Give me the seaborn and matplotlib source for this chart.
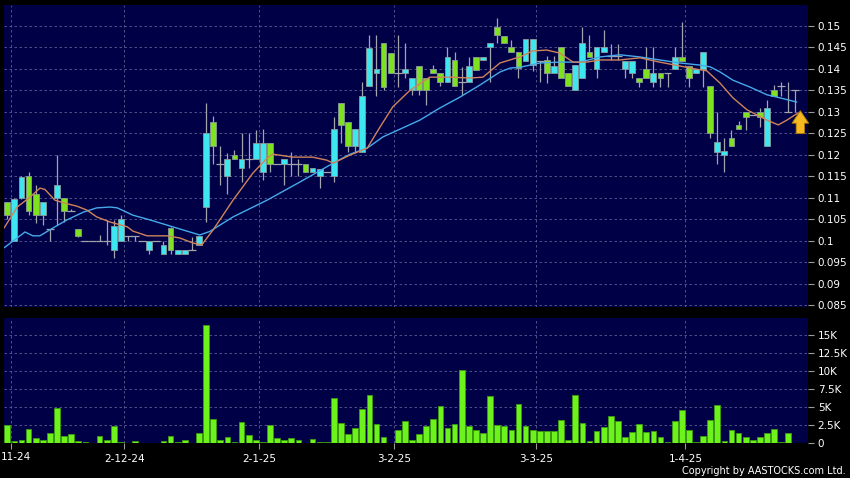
import numpy as np
import pandas as pd
import matplotlib
matplotlib.use('Agg')
import matplotlib.pyplot as plt
import seaborn as sns

# daily OHLC (HK$), one entry per trading day
opens = [0.109, 0.100, 0.110, 0.115, 0.111, 0.106, 0.1028, 0.110, 0.110, 0.107,
         0.1028, 0.100, 0.100, 0.100, 0.100, 0.098, 0.100, 0.1012, 0.1012, 0.100,
         0.098, 0.100, 0.097, 0.103, 0.097, 0.097, 0.098, 0.0991, 0.108, 0.1277,
         0.118, 0.115, 0.120, 0.117, 0.119, 0.119, 0.116, 0.1228, 0.118, 0.118,
         0.118, 0.118, 0.118, 0.116, 0.115, 0.116, 0.115, 0.132, 0.1277, 0.122,
         0.1207, 0.136, 0.139, 0.146, 0.1437, 0.139, 0.139, 0.135, 0.1407, 0.138,
         0.140, 0.139, 0.137, 0.142, 0.137, 0.137, 0.1428, 0.142, 0.145, 0.1498,
         0.1477, 0.145, 0.144, 0.1418, 0.1409, 0.1418, 0.142, 0.139, 0.145, 0.139,
         0.135, 0.1379, 0.144, 0.140, 0.144, 0.143, 0.143, 0.140, 0.139, 0.1379,
         0.140, 0.137, 0.139, 0.139, 0.140, 0.1428, 0.1407, 0.139, 0.140, 0.136,
         0.1207, 0.120, 0.124, 0.127, 0.130, 0.1293, 0.130, 0.122, 0.135, 0.136,
         0.130, 0.135]
highs = [0.109, 0.110, 0.115, 0.116, 0.113, 0.109, 0.1028, 0.120, 0.110, 0.1075,
         0.1028, 0.100, 0.100, 0.1014, 0.1049, 0.1049, 0.106, 0.1012, 0.1012, 0.100,
         0.100, 0.100, 0.100, 0.1033, 0.098, 0.098, 0.101, 0.1012, 0.132, 0.129,
         0.122, 0.1205, 0.1212, 0.125, 0.125, 0.1258, 0.126, 0.1228, 0.118, 0.119,
         0.1207, 0.119, 0.118, 0.117, 0.1167, 0.116, 0.1288, 0.132, 0.1277, 0.126,
         0.137, 0.148, 0.148, 0.146, 0.1437, 0.148, 0.146, 0.138, 0.1407, 0.138,
         0.141, 0.139, 0.145, 0.144, 0.1405, 0.1428, 0.1428, 0.1428, 0.146, 0.1519,
         0.1477, 0.1467, 0.144, 0.147, 0.147, 0.1418, 0.143, 0.143, 0.145, 0.139,
         0.1409, 0.1498, 0.148, 0.145, 0.149, 0.1458, 0.1458, 0.1419, 0.1419, 0.1379,
         0.145, 0.145, 0.139, 0.139, 0.145, 0.151, 0.1407, 0.140, 0.144, 0.136,
         0.130, 0.124, 0.1258, 0.128, 0.130, 0.1293, 0.131, 0.1328, 0.1363, 0.137,
         0.137, 0.135]
lows = [0.105, 0.100, 0.1098, 0.106, 0.1042, 0.1037, 0.100, 0.1037, 0.1045, 0.107,
        0.1010, 0.100, 0.100, 0.100, 0.0991, 0.096, 0.100, 0.100, 0.100, 0.100,
        0.097, 0.100, 0.097, 0.097, 0.097, 0.097, 0.098, 0.0991, 0.1044, 0.118,
        0.113, 0.111, 0.119, 0.1137, 0.117, 0.119, 0.1142, 0.116, 0.118, 0.113,
        0.115, 0.115, 0.116, 0.116, 0.1123, 0.116, 0.1137, 0.1228, 0.1207, 0.1205,
        0.1207, 0.136, 0.1337, 0.135, 0.139, 0.1358, 0.138, 0.134, 0.134, 0.1316,
        0.139, 0.136, 0.137, 0.136, 0.134, 0.137, 0.1398, 0.142, 0.137, 0.146,
        0.146, 0.144, 0.1379, 0.1418, 0.1395, 0.137, 0.1367, 0.139, 0.1379, 0.136,
        0.135, 0.1379, 0.1428, 0.138, 0.144, 0.142, 0.142, 0.138, 0.138, 0.1358,
        0.1379, 0.1358, 0.1358, 0.1358, 0.140, 0.1419, 0.1358, 0.139, 0.1358, 0.124,
        0.118, 0.116, 0.122, 0.126, 0.1258, 0.1293, 0.1265, 0.122, 0.1337, 0.1337,
        0.130, 0.130]
closes = [0.106, 0.1098, 0.1149, 0.107, 0.106, 0.109, 0.1028, 0.113, 0.107, 0.107,
          0.1012, 0.100, 0.100, 0.100, 0.100, 0.1035, 0.105, 0.1012, 0.1012, 0.100,
          0.100, 0.100, 0.099, 0.098, 0.098, 0.098, 0.098, 0.1012, 0.125, 0.122,
          0.118, 0.119, 0.119, 0.119, 0.119, 0.1228, 0.1228, 0.118, 0.118, 0.119,
          0.118, 0.118, 0.116, 0.117, 0.1167, 0.116, 0.126, 0.127, 0.122, 0.126,
          0.1337, 0.1449, 0.140, 0.1358, 0.139, 0.139, 0.140, 0.1379, 0.135, 0.135,
          0.139, 0.137, 0.1428, 0.136, 0.137, 0.1407, 0.1398, 0.1428, 0.146, 0.148,
          0.146, 0.144, 0.1402, 0.147, 0.147, 0.1418, 0.139, 0.1407, 0.1379, 0.136,
          0.1409, 0.146, 0.1428, 0.145, 0.145, 0.143, 0.143, 0.1419, 0.1419, 0.137,
          0.1379, 0.139, 0.1379, 0.139, 0.1428, 0.1419, 0.1379, 0.140, 0.144, 0.125,
          0.123, 0.121, 0.122, 0.126, 0.1288, 0.1293, 0.1288, 0.131, 0.1337, 0.136,
          0.130, 0.135]
# volume in thousands of shares
volume_k = [2.55, 0.23, 0.37, 2.0, 0.74, 0.37, 1.34, 4.8, 0.97, 1.25,
            0.28, 0.14, 0.0, 0.97, 0.42, 2.3, 0.19, 0.02, 0.23, 0.0,
            0.02, 0.0, 0.28, 0.97, 0.19, 0.42, 0.0, 1.39, 16.4, 3.4,
            0.42, 0.88, 0.1, 2.9, 1.16, 0.42, 0.19, 2.45, 0.65, 0.46,
            0.65, 0.37, 0.0, 0.5, 0.14, 0.14, 6.3, 2.8, 1.25, 2.1,
            4.7, 6.6, 2.7, 0.83, 0.0, 1.8, 3.0, 0.46, 1.2, 2.36,
            3.3, 5.1, 2.1, 2.7, 10.1, 2.36, 1.85, 1.44, 6.5, 2.55,
            2.4, 1.85, 5.4, 2.36, 1.76, 1.71, 1.71, 1.71, 3.2, 0.42,
            6.7, 2.8, 0.28, 1.67, 2.2, 3.8, 3.0, 0.83, 1.57, 2.64,
            1.53, 1.62, 0.88, 0.14, 3.0, 4.6, 1.85, 0.1, 0.97, 3.15,
            5.3, 0.28, 1.85, 1.44, 0.88, 0.46, 0.88, 1.39, 2.0, 0.1,
            1.39, 0.0]

# moving averages (day index, value)
ma_short_day = [-0.46, 1.4, 3.2, 4.6, 5.3, 6.7, 8.1, 9.8, 11.2, 12.6, 14.5, 16.9, 17.7,
                19.7, 22.5, 24.3, 26.2, 27.4, 29.0, 31.8, 34.6, 36.6, 37.4, 40.2, 43.0,
                45.0, 45.9, 48.3, 50.7, 52.5, 54.3, 56.7, 59.5, 62.3, 65.2, 67.0, 69.4,
                72.2, 74.0, 76.0, 77.8, 79.7, 81.6, 83.5, 86.3, 89.1, 91.9, 94.7, 97.6,
                98.5, 100.4, 102.2, 104.2, 105.6, 107.0, 108.6, 109.8, 111.4]
ma_short = [0.103, 0.1079, 0.1102, 0.1123, 0.112, 0.1095, 0.1088, 0.1081, 0.1072, 0.1056,
            0.1044, 0.1033, 0.1023, 0.1012, 0.1012, 0.1007, 0.0995, 0.0991, 0.1026, 0.1095,
            0.1158, 0.1193, 0.1202, 0.1195, 0.1195, 0.1188, 0.1181, 0.120, 0.1216, 0.1265,
            0.1312, 0.135, 0.1381, 0.1381, 0.1379, 0.1381, 0.1414, 0.1428, 0.1442, 0.1444,
            0.1437, 0.1416, 0.1416, 0.1421, 0.1421, 0.1426, 0.1416, 0.1407, 0.1398, 0.1396,
            0.1367, 0.1333, 0.1305, 0.1293, 0.1281, 0.127, 0.1281, 0.1298]
ma_long_day = [-0.46, 2.5, 3.6, 4.6, 6.0, 8.4, 10.7, 12.6, 14.5, 15.5, 17.7, 20.1, 22.5,
               24.7, 27.1, 28.5, 31.8, 36.6, 41.2, 45.9, 48.3, 50.7, 52.9, 55.3, 58.1,
               60.9, 63.8, 66.6, 69.4, 70.8, 72.2, 75.0, 77.8, 80.7, 83.5, 86.3, 89.1,
               91.9, 94.7, 97.6, 99.0, 100.4, 102.2, 104.6, 107.0, 108.8, 111.2]
ma_long = [0.0984, 0.1021, 0.1012, 0.1012, 0.1026, 0.1049, 0.1067, 0.1077, 0.1079, 0.1077,
           0.1060, 0.1049, 0.1037, 0.1026, 0.1014, 0.1022, 0.1056, 0.1095, 0.1137, 0.1181,
           0.1202, 0.1216, 0.1242, 0.1260, 0.1281, 0.1309, 0.1335, 0.1363, 0.1393, 0.1402,
           0.1404, 0.1414, 0.1416, 0.1416, 0.1428, 0.1433, 0.1428, 0.1421, 0.1414, 0.1409,
           0.1405, 0.1393, 0.1374, 0.1358, 0.1340, 0.1333, 0.1323]

first_label = '11-24'
month_labels = ['', '2-12-24', '2-1-25', '3-2-25', '3-3-25', '1-4-25']
month_first_day = [1, 17, 36, 55, 75, 96]
price_ticks = [0.085, 0.09, 0.095, 0.1, 0.105, 0.11, 0.115, 0.12, 0.125, 0.13, 0.135, 0.14, 0.145, 0.15]
price_labels = ['0.085', '0.09', '0.095', '0.1', '0.105', '0.11', '0.115', '0.12', '0.125',
                '0.13', '0.135', '0.14', '0.145', '0.15']
vol_ticks = [0, 2.5, 5, 7.5, 10, 12.5, 15]
vol_labels = ['0', '2.5K', '5K', '7.5K', '10K', '12.5K', '15K']

sns.set_theme(style='dark', rc={'figure.facecolor': 'black', 'axes.facecolor': '#000046'})
plt.rcParams['font.family'] = ['DejaVu Sans']

df = pd.DataFrame({'open': opens, 'high': highs, 'low': lows, 'close': closes, 'vol': volume_k})
df['day'] = np.arange(len(df))

fig = plt.figure(figsize=(8.5, 4.78), dpi=100)
ax = fig.add_axes([4 / 850, 1 - 307 / 478, 804 / 850, 302 / 478])
axv = fig.add_axes([4 / 850, 1 - 443 / 478, 804 / 850, 125 / 478])

grid_kw = dict(color='#5c5c94', lw=0.6, ls=(0, (3, 3)))
grid_x = [d - 0.5 for d in month_first_day]

# candles
ax.vlines(df['day'], df['low'], df['high'], color='#a4a4ac', lw=0.9, zorder=3)
body = df[df['close'] != df['open']]
body_colors = np.where(body['close'] > body['open'], '#3ee6f0', '#7fe21e')
ax.bar(body['day'], body['close'] - body['open'], bottom=body['open'], width=0.82,
       color=body_colors, edgecolor='#8a9a9a', lw=0.6, zorder=4)
doji = df[df['close'] == df['open']]
ax.hlines(doji['open'], doji['day'] - 0.55, doji['day'] + 0.55, color='#a4a4ac', lw=0.9, zorder=4)

sns.lineplot(x=ma_long_day, y=ma_long, color='#46aaea', lw=1.0, ax=ax, zorder=5)
sns.lineplot(x=ma_short_day, y=ma_short, color='#d0845a', lw=1.0, ax=ax, zorder=5)

ax.annotate('', xy=(111.7, 0.1303), xytext=(111.7, 0.1250),
            arrowprops=dict(arrowstyle='simple,head_width=1.0,head_length=0.75,tail_width=0.5',
                            fc='#f6b820', ec='#b07a00', lw=0.6, shrinkA=0, shrinkB=0),
            zorder=6)

ax.set_xlim(-0.46, 112.78)
ax.set_ylim(0.08465, 0.15488)
ax.set_yticks(price_ticks)
ax.set_yticklabels(price_labels)
ax.set_xticks(grid_x)
for y in price_ticks:
    ax.axhline(y, zorder=1, **grid_kw)
for x in grid_x:
    ax.axvline(x, zorder=1, **grid_kw)
ax.tick_params(axis='x', bottom=False, labelbottom=False)
ax.yaxis.tick_right()
ax.tick_params(axis='y', right=True, left=False, length=4, width=0.8, color='#9a9a9a',
               labelcolor='white', labelsize=7.5, pad=3)
ax.set_xlabel('')
ax.set_ylabel('')

# volume
sns.barplot(x=df['day'], y=df['vol'], native_scale=True, color='#6ef21c', saturation=1,
            edgecolor='#3e9c12', linewidth=0.6, errorbar=None, ax=axv, zorder=3)
axv.set_xlim(-0.46, 112.78)
axv.set_ylim(0, 17.36)
axv.set_yticks(vol_ticks)
axv.set_yticklabels(vol_labels)
for y in vol_ticks[1:]:
    axv.axhline(y, zorder=1, **grid_kw)
for x in grid_x:
    axv.axvline(x, zorder=1, **grid_kw)
axv.set_xticks(grid_x)
axv.set_xticklabels(month_labels)
axv.yaxis.tick_right()
axv.tick_params(axis='y', right=True, left=False, length=4, width=0.8, color='#9a9a9a',
                labelcolor='white', labelsize=7.5, pad=3)
axv.tick_params(axis='x', bottom=True, length=4, width=0.8, color='#9a9a9a',
                labelcolor='white', labelsize=7.5, pad=4)
axv.set_xlabel('')
axv.set_ylabel('')

for a in (ax, axv):
    for s in a.spines.values():
        s.set_visible(False)

fig.text(1 / 850, 1 - 457 / 478, first_label, ha='left', va='center', color='white', fontsize=7.5)
fig.text(846 / 850, 1 - 471 / 478, 'Copyright by AASTOCKS.com Ltd.', ha='right', va='center',
         color='white', fontsize=7)

fig.savefig('out.png', dpi=100, facecolor='black')
